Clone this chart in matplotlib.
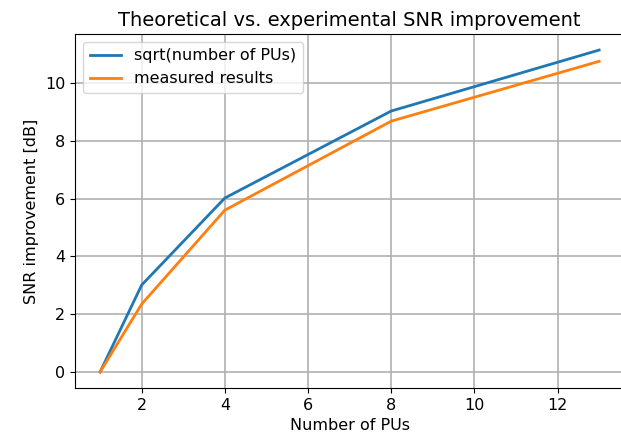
import matplotlib
matplotlib.use("Agg")
import matplotlib.pyplot as plt

n_pus = [1, 2, 4, 8, 13]
sqrt_db = [0.0, 3.01, 6.02, 9.03, 11.14]
measured_db = [0.0, 2.35, 5.6, 8.68, 10.75]

fig = plt.figure(figsize=(6.21, 4.41), dpi=100)
ax = fig.add_axes([0.121, 0.12, 0.884, 0.803])
ax.plot(n_pus, sqrt_db, color="#1f77b4", lw=2, label="sqrt(number of PUs)")
ax.plot(n_pus, measured_db, color="#ff7f0e", lw=2, label="measured results")
ax.set_title("Theoretical vs. experimental SNR improvement", fontsize=14)
ax.set_xlabel("Number of PUs", fontsize=11.5)
ax.set_ylabel("SNR improvement [dB]", fontsize=11.5)
ax.tick_params(labelsize=11.5)
ax.grid(True, color="#b0b0b0", lw=1.2)
ax.spines["right"].set_color("#d0d0d0")
ax.legend(loc="upper left", fontsize=11.5)
fig.savefig("out.png", dpi=100)
